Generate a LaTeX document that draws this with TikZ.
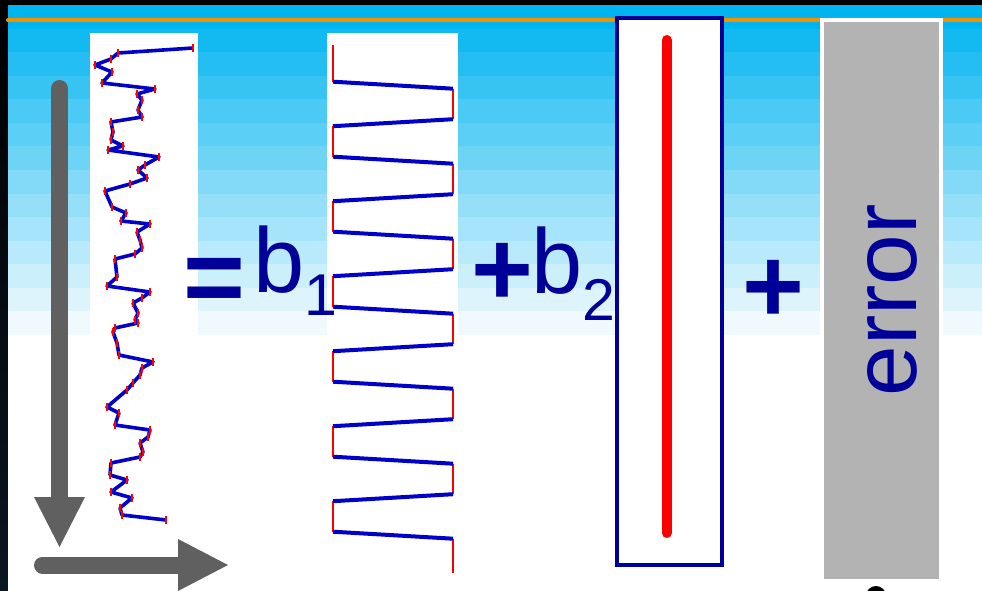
\documentclass[tikz,border=0pt]{standalone}
\usepackage{fontspec}
\setmainfont{Liberation Sans}
\definecolor{navy}{RGB}{0,0,153}
\definecolor{gtop}{RGB}{0,180,240}
\definecolor{gbot}{RGB}{240,250,254}
\definecolor{orangeL}{RGB}{243,146,0}
\definecolor{arrowgray}{RGB}{96,96,96}
\definecolor{boxgray}{RGB}{179,179,179}
\definecolor{curveblue}{RGB}{0,0,200}
\definecolor{darkedge}{RGB}{10,22,34}
\begin{document}
\begin{tikzpicture}[x=1pt,y=-1pt,
  curve/.style={curveblue, line width=3.6pt, line join=round},
  errtick/.style={red, line width=1.3pt},
  sawred/.style={red, line width=1.4pt},
  sawblue/.style={curveblue, line width=4pt},
  sym/.style={navy, inner sep=0pt, font=\fontsize{106}{106}\selectfont\bfseries},
  lab/.style={navy, inner sep=0pt, font=\fontsize{92}{92}\selectfont},
  bigarrow/.style={arrowgray, line width=17pt, line cap=round},
]
\useasboundingbox (0,0) rectangle (982,591);
% background
\fill[black] (0,0) rectangle (982,591);
\shade[top color=black, bottom color=darkedge] (0,0) rectangle (8,591);
\fill[white] (8,5) rectangle (982,591);
\foreach \i in {0,...,13}{
  \pgfmathtruncatemacro\p{round(100*\i/13)}
  \fill[gbot!\p!gtop] (8,{5+23.57*\i}) rectangle (982,{5+23.57*(\i+1)+0.5});
}
\draw[orangeL, line width=4pt, line cap=round] (8,20.5) -- (982,20.5);
% white panels behind the curves
\fill[white] (90,33) rectangle (198,335);
\fill[white] (327,33) rectangle (458,335);
% curve 1
\def\curveA{(118,53),(111,59),(95,65),(112,72),(102,83),(155,89),(137,94),(142,100),(138,110),(142,117),(111,122),(113,132),(111,140),(123,146),(108,150),(159,157),(145,165),(138,170),(147,178),(130,184),(105,191),(112,207),(126,213),(121,221),(150,224),(137,232),(140,240),(142,248),(135,254),(115,259),(117,277),(107,286),(150,292),(142,298),(133,303),(138,313),(135,320),(138,323),(115,328),(113,332),(117,343),(119,355),(153,362),(142,368),(140,375),(133,383),(127,390),(107,407),(119,413),(115,425),(150,430),(148,437),(140,443),(143,452),(140,457),(111,463),(110,475),(127,480),(111,492),(132,498),(120,508),(122,515),(166,520)}
\draw[curve] (193,48) foreach \q in \curveA { -- \q };
\foreach \q in {(193,48)} { \draw[errtick] \q ++(0,-4) -- ++(0,8); }
\foreach \q in \curveA { \draw[errtick] \q ++(0,-4) -- ++(0,8); }
% curve 2 (sawtooth)
\draw[sawred] (333,45) -- (333,81.7);
\foreach \k in {0,...,12}{
  \pgfmathsetmacro\ya{81.7+37.5*\k}
  \pgfmathsetmacro\yb{\ya+7}
  \pgfmathsetmacro\yc{\ya+37.5}
  \pgfmathtruncatemacro\odd{mod(\k,2)}
  \ifnum\odd=0
    \draw[sawred] (453,\yb) -- (453,\yc);
    \draw[sawblue] (333,\ya) -- (453,\yb);
  \else
    \draw[sawred] (333,\yb) -- (333,\yc);
    \draw[sawblue] (453,\ya) -- (333,\yb);
  \fi
}
\draw[sawred] (453,560) -- (453,573);
% constant column
\draw[navy, line width=4pt, fill=white] (617,18) rectangle (722,565);
\draw[red, line width=10pt, line cap=round] (666.7,40) -- (666.7,533);
% error column
\fill[white] (820,18) rectangle (943,580);
\fill[boxgray] (824,22) rectangle (939,579);
\fill[black] (876,596) circle (10);
% axes arrows
\draw[bigarrow] (59.5,88.5) -- (59.5,498);
\fill[arrowgray] (34,497) -- (85,497) -- (59.5,547) -- cycle;
\draw[bigarrow] (42.5,565) -- (179,565);
\fill[arrowgray] (178,539) -- (178,591) -- (228,565) -- cycle;
% equation text
\node[sym] (eq) at (214.5,286) {=};
\node[lab, anchor=base west] (b1) at (253,292) {b\raisebox{-23pt}{\fontsize{59}{59}\selectfont 1}};
\node[sym] (plus1) at (502.5,274) {+};
\node[lab, anchor=base west] (b2) at (531,293) {b\raisebox{-27pt}{\fontsize{59}{59}\selectfont 2}};
\node[sym] (plus2) at (773.5,291) {+};
\node[navy, inner sep=0pt, rotate=90, font=\fontsize{91}{91}\selectfont] (err) at (892.5,300.5) {error};
\end{tikzpicture}
\end{document}
